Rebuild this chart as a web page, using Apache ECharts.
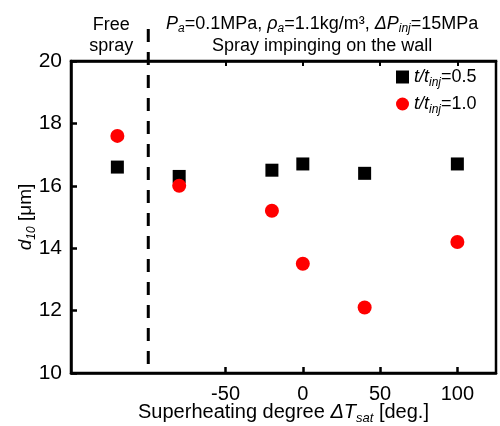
<!DOCTYPE html>
<html><head><meta charset="utf-8">
<script src="https://cdn.jsdelivr.net/npm/echarts@6/dist/echarts.min.js"></script>
<style>html,body{margin:0;padding:0;background:#fff}#c{width:500px;height:426px}</style>
</head><body><div id="c"></div>
<script>
// Data
const xSuperheat = [-120, -80, -20, 0, 40, 100]; // -120 = free spray position
const d10_t05 = [16.6, 16.3, 16.5, 16.7, 16.4, 16.7];
const d10_t10 = [17.6, 16.0, 15.2, 13.5, 12.1, 14.2];
const xTickValues = [-50, 0, 50, 100];
const yTickValues = [10, 12, 14, 16, 18, 20];
const seriesNames = ['t/tinj=0.5', 't/tinj=1.0'];
const dividerX = -100;

const FONT = '"Liberation Sans", Arial, sans-serif';
function makeRich(fs, sfs, lh) {
  const base = {fontFamily: FONT, color: '#000'};
  return {
    n: Object.assign({}, base, {fontSize: fs, lineHeight: lh}),
    i: Object.assign({}, base, {fontSize: fs, lineHeight: lh, fontStyle: 'italic'}),
    s: Object.assign({}, base, {fontSize: sfs, lineHeight: sfs, verticalAlign: 'bottom'}),
    si: Object.assign({}, base, {fontSize: sfs, lineHeight: sfs, verticalAlign: 'bottom', fontStyle: 'italic'})
  };
}

const chart = echarts.init(document.getElementById('c'), null, {renderer: 'canvas'});
const option = {
  animation: false,
  backgroundColor: '#fff',
  grid: {left: 71, right: 4, top: 61, bottom: 53, outerBoundsMode: 'none', containLabel: false,
    show: true, borderColor: '#000', borderWidth: 2.5, backgroundColor: 'transparent'},
  xAxis: [{
    type: 'value', min: -150, max: 125, interval: 50,
    splitLine: {show: false},
    axisLine: {show: true, onZero: false, lineStyle: {color: '#000', width: 2.5}},
    axisTick: {show: true, inside: true, length: 6, customValues: xTickValues, lineStyle: {color: '#000', width: 2.5}},
    axisLabel: {customValues: xTickValues, fontFamily: FONT, fontSize: 20, color: '#000', margin: 11},
    name: '{n|Superheating degree }{i|ΔT}{si|sat}{n| [deg.]}',
    nameLocation: 'middle', nameGap: 26, nameMoveOverlap: false,
    nameTextStyle: {rich: makeRich(20, 13, 26)}
  }, {
    type: 'value', min: -150, max: 125, interval: 50, position: 'top',
    splitLine: {show: false},
    axisLine: {show: true, onZero: false, lineStyle: {color: '#000', width: 2.5}},
    axisTick: {show: true, inside: true, length: 5, customValues: xTickValues, lineStyle: {color: '#000', width: 2}},
    axisLabel: {show: false}
  }],
  yAxis: {
    type: 'value', min: 10, max: 20, interval: 2,
    splitLine: {show: false},
    axisLine: {show: true, onZero: false, lineStyle: {color: '#000', width: 2.5}},
    axisTick: {show: true, inside: true, length: 6, lineStyle: {color: '#000', width: 2.5}},
    axisLabel: {fontFamily: FONT, fontSize: 21, color: '#000', margin: 9},
    name: '{i|d}{si|10}{n| [μm]}',
    nameLocation: 'middle', nameGap: 33, nameMoveOverlap: false,
    nameTextStyle: {rich: makeRich(19, 12, 25)}
  },
  legend: {
    orient: 'vertical', left: 391, top: 63, itemWidth: 13, itemHeight: 13, itemGap: 6,
    data: [{name: seriesNames[0], icon: 'rect'}, {name: seriesNames[1], icon: 'circle'}],
    formatter: function (name) {
      return '{i|t/t}{si|inj}{n|=' + name.split('=')[1] + '}';
    },
    textStyle: {rich: makeRich(18, 12, 24)}
  },
  series: [{
    name: seriesNames[0], type: 'scatter', symbol: 'rect', symbolSize: 13,
    itemStyle: {color: '#000', opacity: 1},
    data: xSuperheat.map((x, i) => [x, d10_t05[i]])
  }, {
    name: seriesNames[1], type: 'scatter', symbol: 'circle', symbolSize: 14,
    itemStyle: {color: '#ff0000', opacity: 1},
    data: xSuperheat.map((x, i) => [x, d10_t10[i]])
  }]
};
chart.setOption(option);

// Divider line and annotations, positioned from the axis scales
const xDiv = chart.convertToPixel({xAxisIndex: 0}, dividerX);
const yBottom = chart.convertToPixel({yAxisIndex: 0}, 10);
const xFree = chart.convertToPixel({xAxisIndex: 0}, xSuperheat[0]);
const xRight = chart.convertToPixel({xAxisIndex: 0}, 125);
const xMidWall = (xDiv + xRight) / 2;
chart.setOption({
  graphic: [{
    type: 'line', z: 10,
    shape: {x1: xDiv, y1: 29, x2: xDiv, y2: yBottom},
    style: {stroke: '#000', lineWidth: 3, lineDash: [13, 10]}
  }, {
    type: 'text', x: xFree - 6, y: 15, z: 10,
    style: {text: 'Free\nspray', font: '18px ' + FONT, fill: '#000', align: 'center', verticalAlign: 'top', lineHeight: 21}
  }, {
    type: 'text', x: xMidWall, y: 13, z: 10,
    style: {
      text: '{i|P}{si|a}{n|=0.1MPa, }{i|ρ}{si|a}{n|=1.1kg/m³, }{i|ΔP}{si|inj}{n|=15MPa}\n{n|Spray impinging on the wall}',
      rich: makeRich(18, 12, 22), align: 'center', verticalAlign: 'top'
    }
  }]
});
</script></body></html>
